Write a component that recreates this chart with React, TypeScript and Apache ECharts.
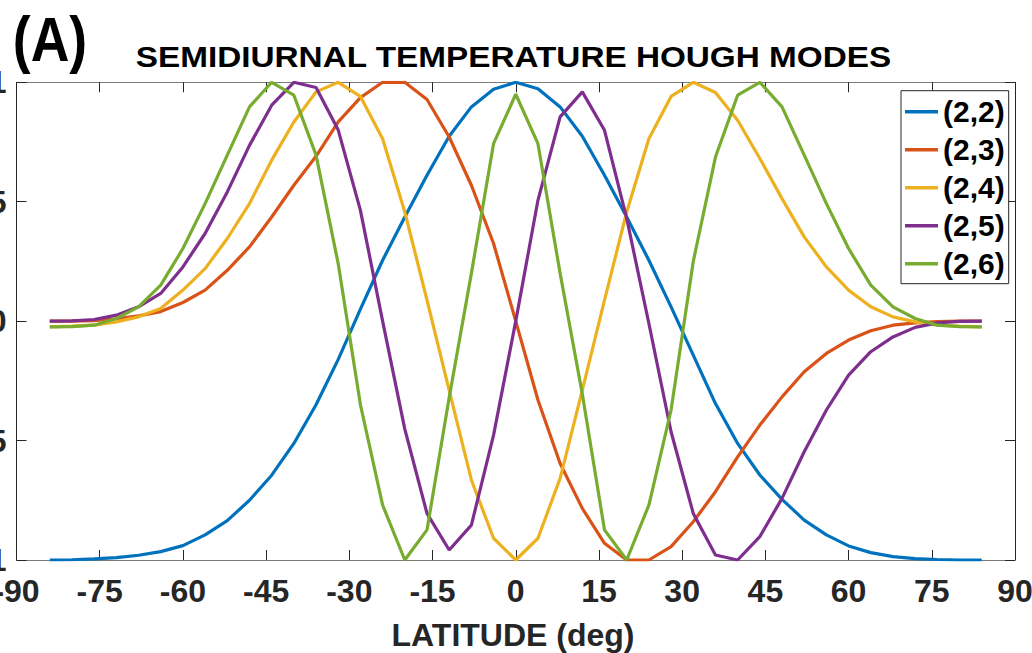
import React, { useEffect, useRef } from "react";
import * as echarts from "echarts";

const latitudes = [
  -84, -80, -76, -72, -68, -64, -60, -56, -52, -48, -44, -40, -36, -32, -28, -24, -20, -16, -12, -8, -4,
  0,
  4, 8, 12, 16, 20, 24, 28, 32, 36, 40, 44, 48, 52, 56, 60, 64, 68, 72, 76, 80, 84,
];

const mode22 = [
  -1.0, -0.999, -0.995, -0.99, -0.98, -0.965, -0.94, -0.895, -0.835, -0.75, -0.645, -0.512, -0.35, -0.16, 0.05, 0.255, 0.436, 0.611, 0.774, 0.897, 0.971,
  1.0,
  0.973, 0.897, 0.774, 0.611, 0.436, 0.255, 0.06, -0.142, -0.345, -0.512, -0.644, -0.746, -0.833, -0.895, -0.941, -0.969, -0.986, -0.994, -0.998, -1.0, -1.0,
];

const mode23 = [
  0, 0, 0.002, 0.01, 0.022, 0.04, 0.078, 0.13, 0.213, 0.311, 0.436, 0.569, 0.69, 0.834, 0.936, 1.0, 1.0, 0.928, 0.771, 0.569, 0.325,
  0,
  -0.33, -0.596, -0.784, -0.93, -1.0, -1.0, -0.944, -0.84, -0.714, -0.568, -0.435, -0.317, -0.212, -0.135, -0.079, -0.04, -0.017, -0.007, -0.002, 0, 0,
];

const mode24 = [
  -0.024, -0.021, -0.017, -0.003, 0.018, 0.053, 0.13, 0.22, 0.346, 0.492, 0.674, 0.834, 0.96, 1.0, 0.941, 0.764, 0.457, 0.088, -0.29, -0.665, -0.909,
  -1.0,
  -0.909, -0.658, -0.289, 0.088, 0.457, 0.764, 0.941, 1.0, 0.957, 0.841, 0.681, 0.513, 0.353, 0.227, 0.13, 0.06, 0.018, -0.003, -0.017, -0.021, -0.024,
];

const mode25 = [
  0, 0.001, 0.007, 0.025, 0.06, 0.116, 0.227, 0.367, 0.541, 0.736, 0.904, 1.0, 0.978, 0.8, 0.464, 0.0, -0.452, -0.805, -0.958, -0.854, -0.477,
  0,
  0.506, 0.855, 0.96, 0.799, 0.43, -0.01, -0.463, -0.805, -0.979, -1.0, -0.902, -0.742, -0.547, -0.372, -0.226, -0.128, -0.066, -0.026, -0.007, -0.001, 0,
];

const mode26 = [
  -0.024, -0.023, -0.017, 0.011, 0.06, 0.151, 0.304, 0.492, 0.695, 0.897, 1.0, 0.946, 0.695, 0.24, -0.35, -0.77, -1.0, -0.874, -0.32, 0.2, 0.743,
  0.95,
  0.743, 0.2, -0.305, -0.874, -1.0, -0.77, -0.372, 0.25, 0.687, 0.946, 1.0, 0.897, 0.695, 0.492, 0.304, 0.151, 0.06, 0.011, -0.017, -0.023, -0.024,
];

const seriesNames = ["(2,2)", "(2,3)", "(2,4)", "(2,5)", "(2,6)"];
const seriesValues = [mode22, mode23, mode24, mode25, mode26];
const seriesColors = ["#0072BD", "#D95319", "#EDB120", "#7E2F8E", "#77AC30"];

const titleText = "SEMIDIURNAL TEMPERATURE HOUGH MODES";
const panelLabel = "(A)";
const xAxisName = "LATITUDE (deg)";

const FONT = '"Liberation Sans", Arial, Helvetica, sans-serif';
const AXIS_DARK = "#262626";
const AXIS_GRAY = "#7a7a7a";

export default function App() {
  const ref = useRef<HTMLDivElement>(null);

  useEffect(() => {
    if (!ref.current) return;
    const chart = echarts.init(ref.current, null, { renderer: "svg" });

    const gridLeft = 16.5;
    const gridRight = 1015;
    const gridTop = 82.3;
    const gridBottom = 560;

    const option: any = {
      animation: false,
      backgroundColor: "#ffffff",
      grid: {
        left: gridLeft,
        top: gridTop,
        width: gridRight - gridLeft,
        height: gridBottom - gridTop,
        containLabel: false,
        outerBoundsMode: "none",
      },
      xAxis: [
        {
          type: "value",
          min: -90,
          max: 90,
          interval: 15,
          position: "bottom",
          axisLine: { show: true, onZero: false, lineStyle: { color: AXIS_GRAY, width: 1 } },
          axisTick: { show: true, inside: true, length: 10, lineStyle: { color: AXIS_DARK, width: 1 } },
          axisLabel: {
            show: true,
            margin: 15,
            fontSize: 32,
            fontWeight: "bold",
            fontFamily: FONT,
            color: AXIS_DARK,
          },
          splitLine: { show: false },
        },
        {
          type: "value",
          min: -90,
          max: 90,
          interval: 15,
          position: "top",
          axisLine: { show: true, onZero: false, lineStyle: { color: AXIS_GRAY, width: 1 } },
          axisTick: { show: true, inside: true, length: 10, lineStyle: { color: AXIS_DARK, width: 1 } },
          axisLabel: { show: false },
          splitLine: { show: false },
        },
      ],
      yAxis: [
        {
          type: "value",
          min: -1,
          max: 1,
          interval: 0.5,
          position: "left",
          axisLine: { show: true, onZero: false, lineStyle: { color: AXIS_DARK, width: 1 } },
          axisTick: { show: true, inside: true, length: 10, lineStyle: { color: AXIS_DARK, width: 1 } },
          axisLabel: {
            show: true,
            margin: 10,
            fontSize: 32,
            fontWeight: "bold",
            fontFamily: FONT,
            color: AXIS_DARK,
          },
          splitLine: { show: false },
        },
        {
          type: "value",
          min: -1,
          max: 1,
          interval: 0.5,
          position: "right",
          axisLine: { show: true, onZero: false, lineStyle: { color: AXIS_DARK, width: 1 } },
          axisTick: { show: true, inside: true, length: 10, lineStyle: { color: AXIS_DARK, width: 1 } },
          axisLabel: { show: false },
          splitLine: { show: false },
        },
      ],
      legend: {
        show: true,
        orient: "vertical",
        left: 901,
        top: 90.7,
        padding: [6, 4, 5, 4],
        icon: "rect",
        itemWidth: 33,
        itemHeight: 3.5,
        itemGap: 8,
        backgroundColor: "#ffffff",
        borderColor: AXIS_DARK,
        borderWidth: 1,
        borderRadius: 0,
        data: seriesNames,
        textStyle: {
          fontSize: 30,
          fontWeight: "bold",
          fontFamily: FONT,
          color: "#000000",
        },
      },
      series: seriesNames.map((name, i) => ({
        name,
        type: "line",
        xAxisIndex: 0,
        yAxisIndex: 0,
        data: latitudes.map((lat, j) => [lat, seriesValues[i][j]]),
        showSymbol: false,
        symbol: "none",
        color: seriesColors[i],
        lineStyle: { color: seriesColors[i], width: 3.2 },
        z: 2 + i,
      })),
      graphic: [
        {
          type: "text",
          x: 50,
          y: 38.5,
          scaleX: 0.85,
          style: {
            text: panelLabel,
            font: `bold 63px ${FONT}`,
            fill: "#000000",
            align: "center",
            verticalAlign: "middle",
          },
        },
        {
          type: "text",
          x: 513.5,
          y: 57,
          scaleX: 1.11,
          style: {
            text: titleText,
            font: `bold 30px ${FONT}`,
            fill: "#000000",
            align: "center",
            verticalAlign: "middle",
          },
        },
        {
          type: "text",
          x: 513,
          y: 634.5,
          style: {
            text: xAxisName,
            font: `bold 32px ${FONT}`,
            fill: AXIS_DARK,
            align: "center",
            verticalAlign: "middle",
          },
        },
      ],
    };

    chart.setOption(option);
    return () => {
      chart.dispose();
    };
  }, []);

  return (
    <div
      ref={ref}
      style={{ position: "absolute", left: 0, top: 0, width: 1032, height: 653, overflow: "hidden" }}
    />
  );
}
